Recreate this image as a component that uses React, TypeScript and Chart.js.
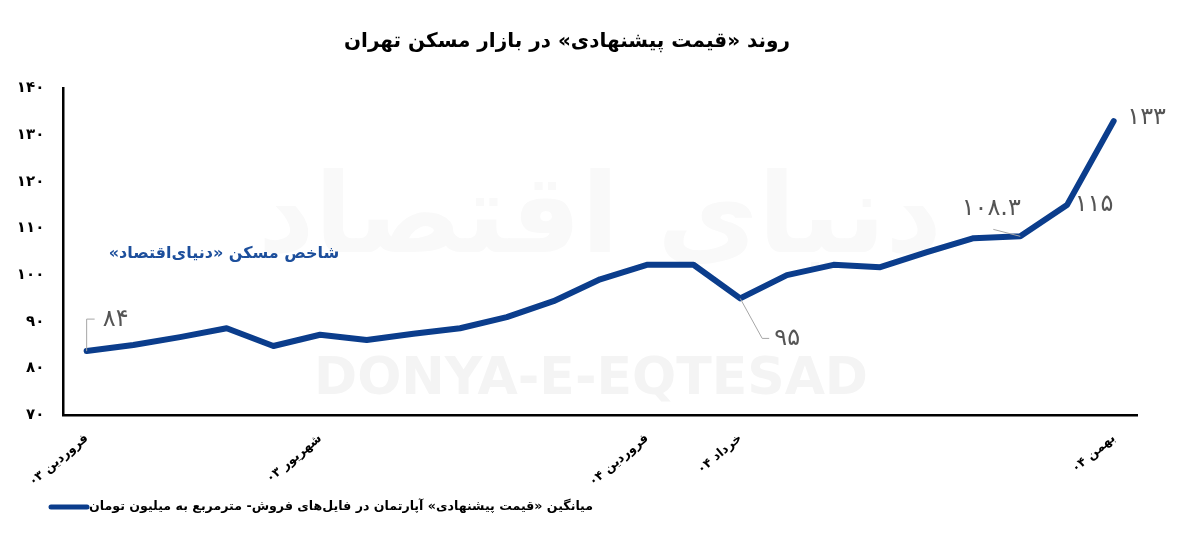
import React, { useEffect, useRef } from "react";
import { Chart, registerables } from "chart.js";

Chart.register(...registerables);

// ---- data ----
const months = [
  "فروردین ۰۳", "اردیبهشت ۰۳", "خرداد ۰۳", "تیر ۰۳", "مرداد ۰۳", "شهریور ۰۳",
  "مهر ۰۳", "آبان ۰۳", "آذر ۰۳", "دی ۰۳", "بهمن ۰۳", "اسفند ۰۳",
  "فروردین ۰۴", "اردیبهشت ۰۴", "خرداد ۰۴", "تیر ۰۴", "مرداد ۰۴", "شهریور ۰۴",
  "مهر ۰۴", "آبان ۰۴", "آذر ۰۴", "دی ۰۴", "بهمن ۰۴",
];
const shownMonthIdx = [0, 5, 12, 14, 22];
const prices = [
  83.7, 85.0, 86.7, 88.6, 84.8, 87.2, 86.1, 87.4, 88.6, 91.0, 94.4, 99.1,
  102.2, 102.2, 95.0, 100.0, 102.2, 101.7, 104.9, 107.9, 108.3, 115.0, 133.0,
];
const labeledIdx = [0, 14, 20, 21, 22];
const labeledText = ["۸۴", "۹۵", "۱۰۸.۳", "۱۱۵", "۱۳۳"];
const yMin = 70;
const yMax = 140;
const yStep = 10;

const titleText = "روند «قیمت پیشنهادی» در بازار مسکن تهران";
const seriesName = "میانگین «قیمت پیشنهادی» آپارتمان در فایل‌های فروش- مترمربع به میلیون تومان";
const noteText = "شاخص مسکن «دنیای‌اقتصاد»";

// ---- styles ----
const FONT = "'DejaVu Sans', 'Noto Sans', sans-serif";
const BLUE = "#0b3d8c";
const faDigits = "۰۱۲۳۴۵۶۷۸۹";
const toFa = (v: number | string) => String(v).replace(/[0-9]/g, (d) => faDigits[+d]);

// label placement relative to the point (text center dx, dy; leader path)
const labelStyles: Record<number, { dx: number; dy: number; leader?: number[][] }> = {
  0: { dx: 29, dy: -31, leader: [[0, 0], [0, -32], [8, -32]] },
  14: { dx: 47, dy: 40, leader: [[0, 0], [22, 40], [29, 40]] },
  20: { dx: -29, dy: -28, leader: [[0, 0], [-27, -7]] },
  21: { dx: 27, dy: 0 },
  22: { dx: 33, dy: -3 },
};

const overlayPlugin = {
  id: "overlay",
  beforeDatasetsDraw(chart: any) {
    const ctx = chart.ctx;
    ctx.save();
    // watermark
    ctx.fillStyle = "#f4f4f4";
    ctx.font = `bold 52px ${FONT}`;
    ctx.textAlign = "center";
    ctx.textBaseline = "middle";
    ctx.fillText("DONYA-E-EQTESAD", 583, 372);
    ctx.fillStyle = "#f9f9f9";
    ctx.direction = "rtl";
    ctx.font = `bold 110px ${FONT}`;
    ctx.fillText("دنیای اقتصاد", 592, 215);
    ctx.restore();
  },
  afterDatasetsDraw(chart: any) {
    const ctx = chart.ctx;
    const meta = chart.getDatasetMeta(0);
    ctx.save();
    // data labels
    labeledIdx.forEach((idx, k) => {
      const pt = meta.data[idx];
      const st = labelStyles[idx];
      if (st.leader) {
        ctx.strokeStyle = "#a6a6a6";
        ctx.lineWidth = 1;
        ctx.beginPath();
        st.leader.forEach(([lx, ly], j) => {
          if (j === 0) ctx.moveTo(pt.x + lx, pt.y + ly);
          else ctx.lineTo(pt.x + lx, pt.y + ly);
        });
        ctx.stroke();
      }
      ctx.fillStyle = "#555555";
      ctx.font = `24px ${FONT}`;
      ctx.textAlign = "center";
      ctx.textBaseline = "middle";
      ctx.fillText(labeledText[k], pt.x + st.dx, pt.y + st.dy);
    });
    ctx.restore();
  },
  afterDraw(chart: any) {
    const ctx = chart.ctx;
    ctx.save();
    // title
    ctx.direction = "rtl";
    ctx.fillStyle = "#000";
    ctx.font = `bold 20px ${FONT}`;
    ctx.textAlign = "center";
    ctx.textBaseline = "middle";
    ctx.fillText(titleText, 559, 34);
    // note
    ctx.fillStyle = "#1d4f9c";
    ctx.font = `bold 16px ${FONT}`;
    ctx.fillText(noteText, 216, 246);
    // legend
    ctx.strokeStyle = BLUE;
    ctx.lineWidth = 5;
    ctx.lineCap = "round";
    ctx.beginPath();
    ctx.moveTo(43, 499);
    ctx.lineTo(79, 499);
    ctx.stroke();
    ctx.fillStyle = "#000";
    ctx.font = `bold 12.6px ${FONT}`;
    ctx.textAlign = "left";
    ctx.fillText(seriesName, 81, 499);
    ctx.restore();
  },
};

export default function App() {
  const ref = useRef<HTMLCanvasElement | null>(null);
  useEffect(() => {
    if (!ref.current) return;
    const chart = new Chart(ref.current, {
      type: "line",
      data: {
        labels: months,
        datasets: [
          {
            label: seriesName,
            data: prices,
            borderColor: BLUE,
            backgroundColor: BLUE,
            borderWidth: 6,
            borderCapStyle: "round",
            borderJoinStyle: "round",
            pointRadius: 0,
            tension: 0,
          },
        ],
      },
      options: {
        animation: false,
        responsive: false,
        devicePixelRatio: 1,
        layout: { padding: { left: 0, right: 55, top: 80.5, bottom: 0 } },
        plugins: {
          legend: { display: false },
          title: { display: false },
          tooltip: { enabled: false },
        },
        scales: {
          x: {
            type: "category",
            offset: true,
            grid: { display: false },
            border: { display: true, color: "#000", width: 2.5 },
            ticks: {
              autoSkip: false,
              maxRotation: 40,
              minRotation: 40,
              padding: 8,
              color: "#000",
              font: { family: FONT, size: 12.5, weight: "bold" },
              callback: (_v: any, i: number) => (shownMonthIdx.includes(i) ? months[i] : ""),
            },
            afterFit: (s: any) => {
              s.height = 120;
            },
          },
          y: {
            min: yMin,
            max: yMax,
            grid: { display: false },
            border: { display: true, color: "#000", width: 2.5 },
            ticks: {
              stepSize: yStep,
              padding: 11,
              color: "#000",
              font: { family: FONT, size: 15, weight: "bold" },
              callback: (v: any) => toFa(v),
            },
            afterFit: (s: any) => {
              s.width = 55.3;
            },
          },
        },
      },
      plugins: [overlayPlugin],
    } as any);
    return () => chart.destroy();
  }, []);
  return (
    <div style={{ width: 1184, height: 527 }}>
      <canvas ref={ref} width={1184} height={527} style={{ display: "block" }} />
    </div>
  );
}
